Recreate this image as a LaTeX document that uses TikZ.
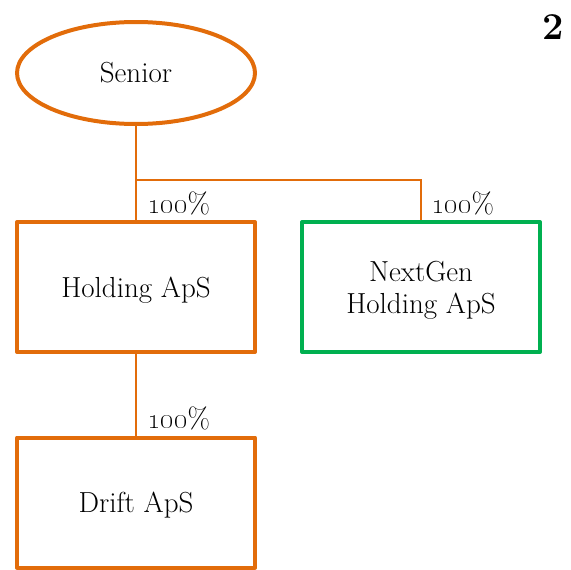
\documentclass[tikz,border=0pt]{standalone}
\usetikzlibrary{shapes.geometric}
\definecolor{ownorange}{RGB}{226,108,10}
\definecolor{owngreen}{RGB}{0,176,80}
\tikzset{
  entity/.style={draw=ownorange, line width=4pt, line join=round, minimum width=238pt, minimum height=130pt, inner sep=0pt, align=center, text depth=0pt, font=\fontsize{29}{32}\selectfont},
  owner/.style={ellipse, draw=ownorange, line width=4pt, minimum width=238pt, minimum height=102pt, inner sep=0pt, font=\fontsize{29}{32}\selectfont},
  link/.style={draw=ownorange, line width=1.6pt},
  share/.style={font=\fontsize{29}{32}\selectfont, inner sep=0pt, anchor=base west},
}
\begin{document}
\begin{tikzpicture}[x=1pt, y=-1pt]
  \useasboundingbox (0,0) rectangle (571,570);
  % owner and companies
  \node[owner] (senior) at (136,73) {Senior};
  \node[entity] (holding) at (136,287) {Holding ApS};
  \node[entity, draw=owngreen] (nextgen) at (421,287) {NextGen\\Holding ApS};
  \node[entity] (drift) at (136,502.5) {Drift ApS};
  % ownership lines
  \coordinate (split) at (136,180);
  \draw[link] (senior.south) -- (holding.north);
  \draw[link] (split) -| (nextgen.north);
  \draw[link] (holding.south) -- (drift.north);
  % ownership shares
  \node[share] (s1) at (147,213) {\oldstylenums{100}\%};
  \node[share] (s2) at (431,213) {\oldstylenums{100}\%};
  \node[share] (s3) at (147,428) {\oldstylenums{100}\%};
  % page number
  \node[font=\fontsize{38}{42}\selectfont\bfseries, inner sep=0pt] (page) at (553,27) {2};
\end{tikzpicture}
\end{document}
